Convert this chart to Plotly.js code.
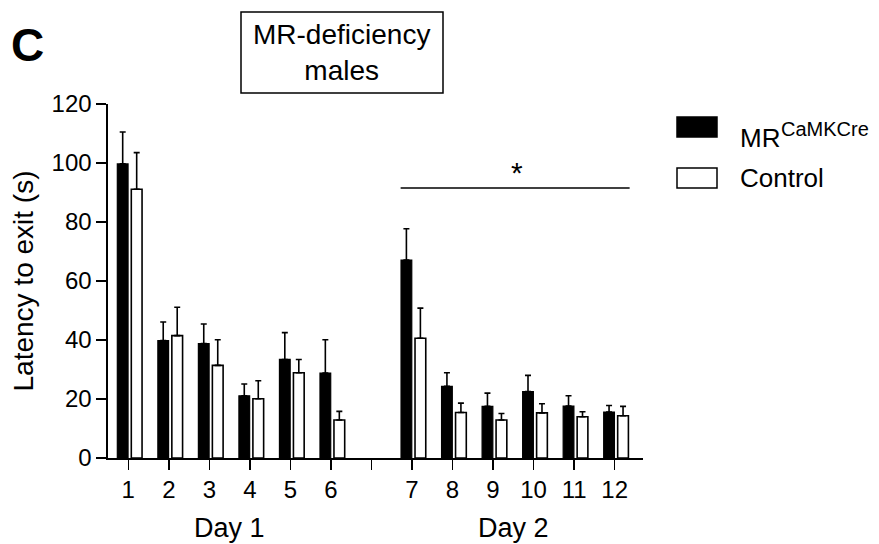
<!DOCTYPE html>
<html>
<head>
<meta charset="utf-8">
<script src="https://cdn.plot.ly/plotly-3.0.1.min.js"></script>
<style>html,body{margin:0;padding:0;background:#fff;}#chart{width:879px;height:544px;}</style>
</head>
<body>
<div id="chart"></div>
<script>
// ---- data ----
var trials = ["1","2","3","4","5","6","7","8","9","10","11","12"];
var mrMean    = [99.7, 39.8, 38.8, 21.1, 33.4, 28.8, 67.1, 24.3, 17.5, 22.5, 17.6, 15.6];
var mrSem     = [10.8,  6.3,  6.6,  4.0,  9.1, 11.3, 10.6,  4.6,  4.5,  5.5,  3.5,  2.2];
var ctrlMean  = [91.1, 41.5, 31.4, 20.1, 28.9, 12.9, 40.6, 15.4, 12.9, 15.3, 14.0, 14.3];
var ctrlSem   = [12.4,  9.6,  8.7,  6.1,  4.5,  2.9, 10.2,  3.2,  2.2,  3.1,  1.7,  3.2];
var dayLabels = ["Day 1", "Day 2"];
var seriesBase = ["MR", "Control"];
var seriesSup  = ["CaMKCre", ""];
var yTicks = [0, 20, 40, 60, 80, 100, 120];

// positions: a gap slot between day 1 and day 2
var xPos = trials.map(function(t, i){ return i < 6 ? i + 1 : i + 2; });
var tickVals = [1,2,3,4,5,6,7,8,9,10,11,12,13];
var tickText = tickVals.map(function(v){ return v < 7 ? String(v) : (v === 7 ? "" : String(v - 1)); });
var zeros = trials.map(function(){ return 0; });

// plot geometry (pixels)
var L = 108, R = 643, T = 104, B = 458;
function px(x){ return (x - L) / (R - L); }
function py(y){ return (B - y) / (B - T); }

var FONT = "Liberation Sans, Arial, sans-serif";

var traces = [
  {
    type: "bar", name: seriesBase[0] + "<sup>" + seriesSup[0] + "</sup>", x: xPos, y: mrMean,
    offset: -0.27, width: 0.265,
    marker: {color: "#000", line: {color: "#000", width: 1.2}},
    error_y: {type: "data", symmetric: false, array: mrSem, arrayminus: zeros,
              color: "#000", thickness: 1.6, width: 3},
    showlegend: false
  },
  {
    type: "bar", name: seriesBase[1], x: xPos, y: ctrlMean,
    offset: 0.075, width: 0.265,
    marker: {color: "#fff", line: {color: "#000", width: 1.6}},
    error_y: {type: "data", symmetric: false, array: ctrlSem, arrayminus: zeros,
              color: "#000", thickness: 1.6, width: 3},
    showlegend: false
  }
];

var layout = {
  width: 879, height: 544,
  margin: {l: L, r: 879 - R, t: T, b: 544 - B, pad: 0},
  paper_bgcolor: "#fff", plot_bgcolor: "#fff",
  barmode: "overlay",
  font: {family: FONT, color: "#000", size: 23},
  showlegend: false,
  xaxis: {
    range: [0.5, 13.7], tickmode: "array", tickvals: tickVals, ticktext: tickText,
    ticks: "outside", ticklen: 10, tickwidth: 1.5, tickcolor: "#000",
    showline: true, linecolor: "#000", linewidth: 1.6,
    showgrid: false, zeroline: false, fixedrange: true,
    tickfont: {family: FONT, size: 24, color: "#000"}
  },
  yaxis: {
    range: [0, 120], tickmode: "array", tickvals: yTicks,
    ticks: "outside", ticklen: 10, tickwidth: 1.5, tickcolor: "#000",
    showline: true, linecolor: "#000", linewidth: 1.6,
    showgrid: false, zeroline: false, fixedrange: true,
    tickfont: {family: FONT, size: 24, color: "#000"},
    title: {text: "Latency to exit (s)", font: {family: FONT, size: 28, color: "#000"}, standoff: 10}
  },
  shapes: [
    // significance line across day 2
    {type: "line", xref: "x", yref: "y", x0: 7.72, x1: 13.37, y0: 91.5, y1: 91.5,
     line: {color: "#000", width: 1.5}},
    // title box
    {type: "rect", xref: "paper", yref: "paper", x0: px(241), x1: px(443), y0: py(93), y1: py(12),
     line: {color: "#000", width: 1.5}, fillcolor: "rgba(0,0,0,0)"},
    // legend swatches
    {type: "rect", xref: "paper", yref: "paper", x0: px(677), x1: px(717), y0: py(137), y1: py(117),
     line: {color: "#000", width: 1.5}, fillcolor: "#000"},
    {type: "rect", xref: "paper", yref: "paper", x0: px(677), x1: px(717), y0: py(188), y1: py(168),
     line: {color: "#000", width: 1.5}, fillcolor: "#fff"}
  ],
  annotations: [
    {text: "*", xref: "x", yref: "paper", x: 10.6, y: py(172), showarrow: false,
     font: {family: FONT, size: 30, color: "#000"}, xanchor: "center", yanchor: "middle"},
    {text: "MR-deficiency<br>males", xref: "paper", yref: "paper", x: px(341), y: py(53),
     showarrow: false, xanchor: "center", yanchor: "middle",
     font: {family: FONT, size: 28, color: "#000"}},
    {text: "<b>C</b>", xref: "paper", yref: "paper", x: px(27), y: py(45),
     showarrow: false, xanchor: "center", yanchor: "middle",
     font: {family: FONT, size: 46, color: "#000"}},
    {text: seriesBase[0], xref: "paper", yref: "paper", x: px(738), y: py(138),
     showarrow: false, xanchor: "left", yanchor: "middle",
     font: {family: FONT, size: 26, color: "#000"}},
    {text: seriesSup[0], xref: "paper", yref: "paper", x: px(779), y: py(129),
     showarrow: false, xanchor: "left", yanchor: "middle",
     font: {family: FONT, size: 20, color: "#000"}},
    {text: seriesBase[1], xref: "paper", yref: "paper", x: px(738), y: py(178),
     showarrow: false, xanchor: "left", yanchor: "middle",
     font: {family: FONT, size: 26, color: "#000"}},
    {text: dayLabels[0], xref: "x", yref: "paper", x: 3.5, y: py(528),
     showarrow: false, xanchor: "center", yanchor: "middle",
     font: {family: FONT, size: 27, color: "#000"}},
    {text: dayLabels[1], xref: "x", yref: "paper", x: 10.5, y: py(528),
     showarrow: false, xanchor: "center", yanchor: "middle",
     font: {family: FONT, size: 27, color: "#000"}}
  ]
};

Plotly.newPlot("chart", traces, layout, {staticPlot: true, displayModeBar: false});
</script>
</body>
</html>
